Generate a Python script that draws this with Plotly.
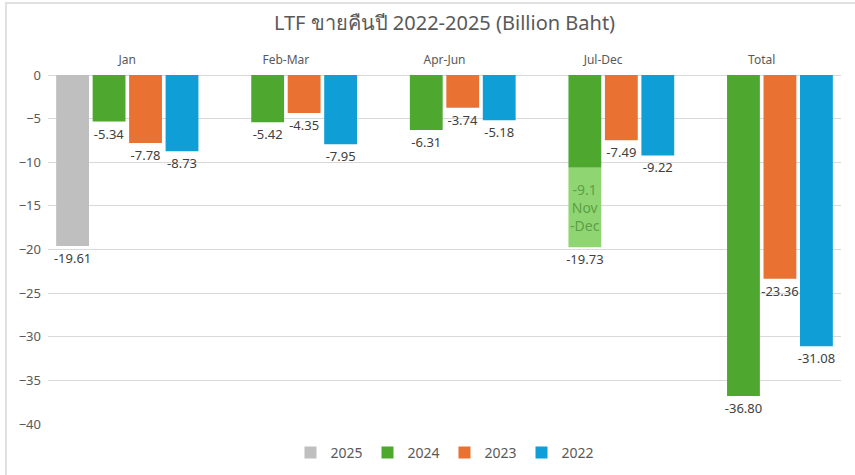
import plotly.graph_objects as go

categories = ["Jan", "Feb-Mar", "Apr-Jun", "Jul-Dec", "Total"]
years = ["2025", "2024", "2023", "2022"]
v2025 = [-19.61, None, None, None, None]
v2024 = [-5.34, -5.42, -6.31, -10.63, -36.80]
v2023 = [-7.78, -4.35, -3.74, -7.49, -23.36]
v2022 = [-8.73, -7.95, -5.18, -9.22, -31.08]
v2024_label = ["-5.34", "-5.42", "-6.31", "", "-36.80"]
novdec_value = [None, None, None, -9.1, None]
novdec_base = [None, None, None, -10.63, None]
julydec_2024_total = [None, None, None, -19.73, None]

colors = {"2025": "#BFBFBF", "2024": "#4EA72E", "2023": "#E97132", "2022": "#0F9ED5"}
novdec_color = "#8FD672"
text_color = "#404040"
font_family = "Noto Sans, DejaVu Sans, sans-serif"

def fmt(vals):
    return ["" if v is None else f"{v:.2f}" for v in vals]

fig = go.Figure()
series = {"2025": (v2025, fmt(v2025)), "2024": (v2024, v2024_label),
          "2023": (v2023, fmt(v2023)), "2022": (v2022, fmt(v2022))}
for yr in years:
    vals, labels = series[yr]
    fig.add_trace(go.Bar(
        x=categories, y=vals, name=yr, offsetgroup=yr,
        marker=dict(color=colors[yr], line=dict(width=0)),
        text=labels, textposition="outside", cliponaxis=False, constraintext="none",
        textfont=dict(color=text_color, size=13, family=font_family),
        hoverinfo="skip",
    ))

fig.add_trace(go.Bar(
    x=categories, y=novdec_value, base=novdec_base, offsetgroup="2024",
    marker=dict(color=novdec_color, line=dict(width=0)),
    text=["", "", "", "-9.1<br>Nov<br>-Dec", ""], textposition="inside",
    insidetextanchor="middle", constraintext="none",
    textfont=dict(color="#5E9E48", size=14, family=font_family),
    showlegend=False, hoverinfo="skip",
))
fig.add_trace(go.Bar(
    x=categories, y=julydec_2024_total, offsetgroup="2024",
    marker=dict(color="rgba(0,0,0,0)", line=dict(width=0)),
    text=fmt(julydec_2024_total), textposition="outside", cliponaxis=False,
    constraintext="none",
    textfont=dict(color=text_color, size=13, family=font_family),
    showlegend=False, hoverinfo="skip",
))

fig.update_layout(
    width=855, height=475,
    barmode="group", bargap=0.08, bargroupgap=0.1,
    paper_bgcolor="white", plot_bgcolor="white",
    margin=dict(l=48, r=14, t=75, b=51, autoexpand=False),
    font=dict(family=font_family, color="#595959"),
    title=dict(text="LTF ขายคืนปี 2022-2025 (Billion Baht)", x=0.5, xanchor="center",
               xref="paper", yref="container", y=0.951, yanchor="middle",
               font=dict(size=20, color="#595959"), automargin=False),
    xaxis=dict(side="top", showgrid=False, showline=False, ticks="", automargin=False,
               tickfont=dict(size=12, color="#595959"), ticklabelstandoff=8),
    yaxis=dict(range=[-40, 0], dtick=5, showgrid=True, gridcolor="#D9D9D9", automargin=False,
               zeroline=True, zerolinecolor="#D9D9D9", zerolinewidth=1,
               tickfont=dict(size=13, color="#595959"), ticklabelstandoff=6),
    legend=dict(orientation="h", x=0.5, xanchor="center", y=-0.083, yanchor="middle",
                font=dict(size=14, color="#595959"), traceorder="normal",
                itemwidth=30, entrywidth=32, entrywidthmode="pixels"),
    showlegend=True,
)
fig.add_shape(type="line", xref="paper", yref="paper", x0=-0.053, x1=-0.053, y0=-0.2, y1=1.21,
              line=dict(color="#E0E0E0", width=2))
fig.add_shape(type="line", xref="paper", yref="paper", x0=-0.053, x1=1.1, y0=1.206, y1=1.206,
              line=dict(color="#E0E0E0", width=2))

fig.write_html("out.html", config={"displayModeBar": False},
               post_script="document.body.style.margin='0';")
